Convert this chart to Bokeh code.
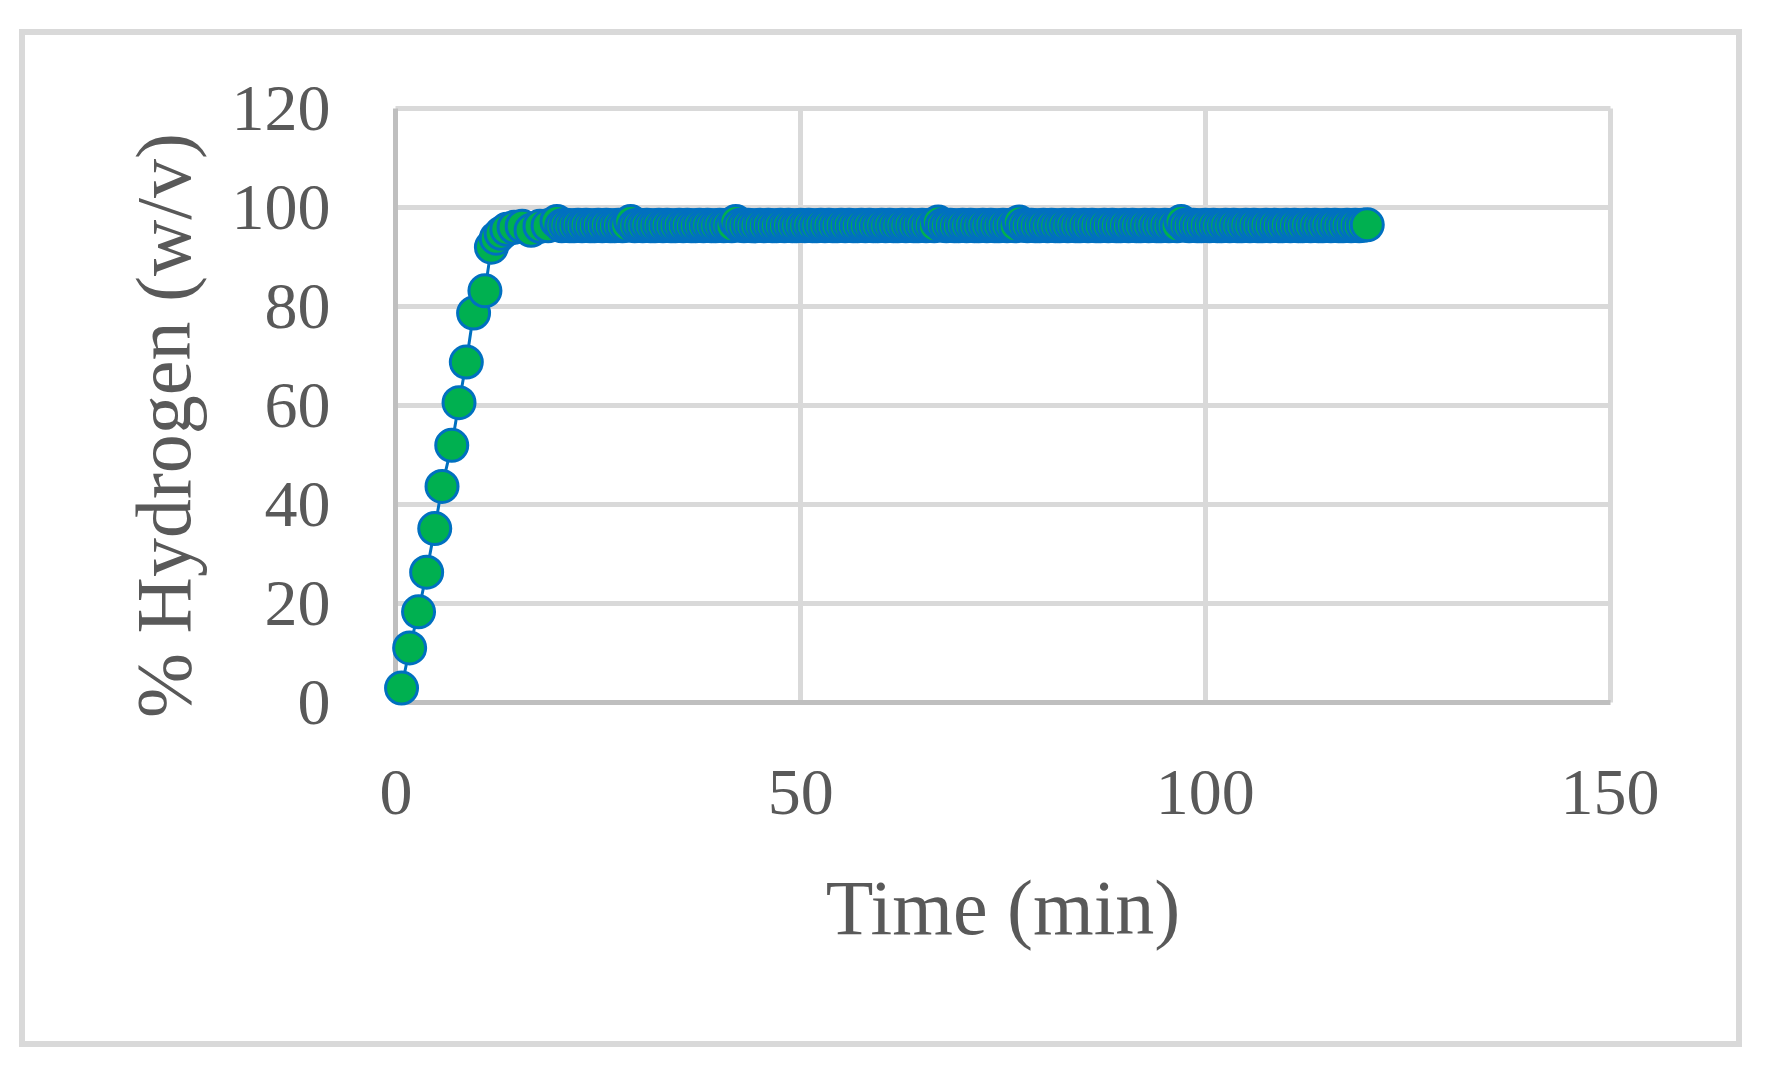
from bokeh.plotting import figure
from bokeh.models import Range1d, FixedTicker, Grid
from bokeh.embed import file_html
from bokeh.resources import INLINE

# ---- data ----
time_early = [0.7, 1.7, 2.8, 3.8, 4.8, 5.7, 6.9, 7.8, 8.7, 9.6, 11.0, 11.8,
              12.4, 13.0, 13.7, 14.6, 15.6, 16.7, 17.8, 18.8, 19.9]
h2_early = [3.0, 11.1, 18.4, 26.4, 35.2, 43.7, 52.0, 60.6, 68.8, 78.7, 83.2, 92.0,
            93.8, 94.8, 95.6, 96.0, 96.2, 95.4, 96.2, 96.3, 97.2]

time_late = [20.5, 21.0, 21.5, 22.0, 22.5, 23.0, 23.5, 24.0, 24.5, 25.0,
             25.5, 26.0, 26.5, 27.0, 27.5, 28.0, 28.5, 29.0, 29.5, 30.0,
             30.5, 31.0, 31.5, 32.0, 32.5, 33.0, 33.5, 34.0, 34.5, 35.0,
             35.5, 36.0, 36.5, 37.0, 37.5, 38.0, 38.5, 39.0, 39.5, 40.0,
             40.5, 41.0, 41.5, 42.0, 42.5, 43.0, 43.5, 44.0, 44.5, 45.0,
             45.5, 46.0, 46.5, 47.0, 47.5, 48.0, 48.5, 49.0, 49.5, 50.0,
             50.5, 51.0, 51.5, 52.0, 52.5, 53.0, 53.5, 54.0, 54.5, 55.0,
             55.5, 56.0, 56.5, 57.0, 57.5, 58.0, 58.5, 59.0, 59.5, 60.0,
             60.5, 61.0, 61.5, 62.0, 62.5, 63.0, 63.5, 64.0, 64.5, 65.0,
             65.5, 66.0, 66.5, 67.0, 67.5, 68.0, 68.5, 69.0, 69.5, 70.0,
             70.5, 71.0, 71.5, 72.0, 72.5, 73.0, 73.5, 74.0, 74.5, 75.0,
             75.5, 76.0, 76.5, 77.0, 77.5, 78.0, 78.5, 79.0, 79.5, 80.0,
             80.5, 81.0, 81.5, 82.0, 82.5, 83.0, 83.5, 84.0, 84.5, 85.0,
             85.5, 86.0, 86.5, 87.0, 87.5, 88.0, 88.5, 89.0, 89.5, 90.0,
             90.5, 91.0, 91.5, 92.0, 92.5, 93.0, 93.5, 94.0, 94.5, 95.0,
             95.5, 96.0, 96.5, 97.0, 97.5, 98.0, 98.5, 99.0, 99.5, 100.0,
             100.5, 101.0, 101.5, 102.0, 102.5, 103.0, 103.5, 104.0, 104.5, 105.0,
             105.5, 106.0, 106.5, 107.0, 107.5, 108.0, 108.5, 109.0, 109.5, 110.0,
             110.5, 111.0, 111.5, 112.0, 112.5, 113.0, 113.5, 114.0, 114.5, 115.0,
             115.5, 116.0, 116.5, 117.0, 117.5, 118.0, 118.5, 119.0, 119.5, 120.0]
h2_late = [96.3, 96.4, 96.3, 96.3, 96.4, 96.3, 96.4, 96.3, 96.3, 96.4,
           96.3, 96.4, 96.3, 96.3, 96.4, 96.3, 96.4, 97.2, 96.3, 96.4,
           96.3, 96.4, 96.3, 96.3, 96.4, 96.3, 96.4, 96.3, 96.3, 96.4,
           96.3, 96.4, 96.3, 96.3, 96.4, 96.3, 96.4, 96.3, 96.3, 96.4,
           96.3, 96.4, 96.3, 97.2, 96.4, 96.3, 96.4, 96.3, 96.3, 96.4,
           96.3, 96.4, 96.3, 96.3, 96.4, 96.3, 96.4, 96.3, 96.3, 96.4,
           96.3, 96.4, 96.3, 96.3, 96.4, 96.3, 96.4, 96.3, 96.3, 96.4,
           96.3, 96.4, 96.3, 96.3, 96.4, 96.3, 96.4, 96.3, 96.3, 96.4,
           96.3, 96.4, 96.3, 96.3, 96.4, 96.3, 96.4, 96.3, 96.3, 96.4,
           96.3, 96.4, 96.3, 97.1, 96.4, 96.3, 96.4, 96.3, 96.3, 96.4,
           96.3, 96.4, 96.3, 96.3, 96.4, 96.3, 96.4, 96.3, 96.3, 96.4,
           96.3, 96.4, 96.3, 97.1, 96.4, 96.3, 96.4, 96.3, 96.3, 96.4,
           96.3, 96.4, 96.3, 96.3, 96.4, 96.3, 96.4, 96.3, 96.3, 96.4,
           96.3, 96.4, 96.3, 96.3, 96.4, 96.3, 96.4, 96.3, 96.3, 96.4,
           96.3, 96.4, 96.3, 96.3, 96.4, 96.3, 96.4, 96.3, 96.3, 96.4,
           96.3, 96.4, 96.3, 97.2, 96.4, 96.3, 96.4, 96.3, 96.3, 96.4,
           96.3, 96.4, 96.3, 96.3, 96.4, 96.3, 96.4, 96.3, 96.3, 96.4,
           96.3, 96.4, 96.3, 96.3, 96.4, 96.3, 96.4, 96.3, 96.3, 96.4,
           96.3, 96.4, 96.3, 96.3, 96.4, 96.3, 96.4, 96.3, 96.3, 96.4,
           96.3, 96.4, 96.3, 96.3, 96.4, 96.3, 96.4, 96.3, 96.4, 96.5]

time_min = time_early + time_late
hydrogen = h2_early + h2_late

x_ticks = [0, 50, 100, 150]
y_ticks = [0, 20, 40, 60, 80, 100, 120]
x_label = "Time (min)"
y_label = "% Hydrogen (w/v)"

FONT = "Liberation Serif"
TXT = "#595959"
AXIS_C = "#bfbfbf"
GRID_C = "#d9d9d9"

x_lim = (x_ticks[0], x_ticks[-1])
y_lim = (y_ticks[0], y_ticks[-1])

p = figure(frame_width=1279, frame_height=644,
           min_border_left=338, min_border_right=94,
           min_border_top=68, min_border_bottom=294,
           x_range=Range1d(-4, 154), y_range=Range1d(-9, 121),
           output_backend="svg", toolbar_location=None,
           background_fill_color="white", border_fill_color="white")
p.outline_line_color = None
p.margin = (29, 0, 0, 19)
p.styles = {"border": "6px solid #d9d9d9"}

# light grid lines, limited to the data area
p.xgrid.ticker = FixedTicker(ticks=x_ticks[1:])
p.ygrid.ticker = FixedTicker(ticks=y_ticks[1:])
p.grid.grid_line_color = GRID_C
p.grid.grid_line_width = 5
p.xgrid.cross_bounds = y_lim
p.ygrid.cross_bounds = x_lim

# darker axis lines at x=0 and y=0
p.add_layout(Grid(dimension=0, ticker=FixedTicker(ticks=[0]), cross_bounds=y_lim,
                  grid_line_color=AXIS_C, grid_line_width=5))
p.add_layout(Grid(dimension=1, ticker=FixedTicker(ticks=[0]), cross_bounds=x_lim,
                  grid_line_color=AXIS_C, grid_line_width=5))

p.xaxis.ticker = FixedTicker(ticks=x_ticks)
p.yaxis.ticker = FixedTicker(ticks=y_ticks)
for ax in (p.xaxis, p.yaxis):
    ax.axis_line_color = None
    ax.major_tick_line_color = None
    ax.minor_tick_line_color = None
    ax.major_label_text_font = FONT
    ax.major_label_text_font_size = "66px"
    ax.major_label_text_color = TXT
    ax.axis_label_text_font = FONT
    ax.axis_label_text_font_size = "78px"
    ax.axis_label_text_color = TXT
    ax.axis_label_text_font_style = "normal"

p.xaxis.axis_label = x_label
p.yaxis.axis_label = y_label
p.xaxis.major_label_standoff = 17
p.xaxis.axis_label_standoff = 47
p.yaxis.major_label_standoff = 27
p.yaxis.axis_label_standoff = 22

# data
p.line(time_min, hydrogen, line_color="#0070c0", line_width=3)
p.scatter(time_min, hydrogen, size=32, fill_color="#00b050",
          line_color="#0070c0", line_width=3)

open("out.html", "w").write(file_html(p, INLINE))
